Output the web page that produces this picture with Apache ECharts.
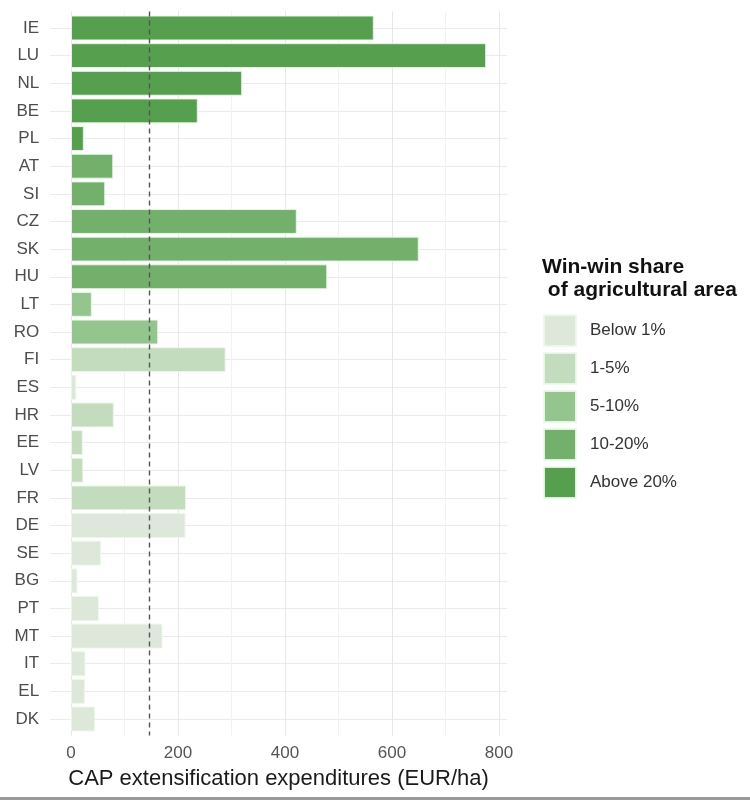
<!DOCTYPE html>
<html>
<head>
<meta charset="utf-8">
<script src="https://cdn.jsdelivr.net/npm/echarts@6/dist/echarts.min.js"></script>
<style>
html,body{margin:0;padding:0;background:#fff;}
#chart{width:750px;height:800px;}
</style>
</head>
<body>
<div id="chart"></div>
<script>
// ---- data ----
const countries = ['IE','LU','NL','BE','PL','AT','SI','CZ','SK','HU','LT','RO','FI','ES','HR','EE','LV','FR','DE','SE','BG','PT','MT','IT','EL','DK'];
const expenditures = [566,776,320,237,24,79,64,422,650,479,39,163,289,10,80,22,23,215,214,56,12,52,171,27,26,45];
// index into shareClasses
const shareGroup = [4,4,4,4,4,3,3,3,3,3,2,2,1,0,1,1,1,1,0,0,0,0,0,0,0,0];
const shareClasses = ['Below 1%','1-5%','5-10%','10-20%','Above 20%'];
const shareColors = ['#dde7da','#c2dcbd','#95c58f','#72b06c','#559f4f'];
const xTicks = [0,200,400,600,800];
const threshold = [147];

// ---- layout ----
const font = 'Liberation Sans, Arial, Helvetica, sans-serif';
const x0 = 71, x800 = 499;                // panel x scale
const rowTop = 28, rowBottom = 719;       // first/last category centres
const nCat = countries.length;
const step = (rowBottom - rowTop) / (nCat - 1);
const panelTop = rowTop - 0.6 * step, panelBottom = rowBottom + 0.6 * step;
const pxPerUnit = (x800 - x0) / 800;
const panelLeft = x0 - 39 * pxPerUnit, panelRight = x800 + 15 * pxPerUnit;

const series = shareClasses.map((name, g) => ({
  name: name,
  type: 'bar',
  stack: 'all',
  xAxisIndex: 1,
  yAxisIndex: 1,
  barCategoryGap: '10%',
  itemStyle: { color: shareColors[g], borderColor: 'rgba(235,248,232,0.9)', borderWidth: 1 },
  data: expenditures.map((v, i) => shareGroup[i] === g ? v : '-'),
  silent: true
}));

series.push({
  type: 'line',
  xAxisIndex: 0,
  yAxisIndex: 0,
  data: [],
  silent: true,
  markLine: {
    symbol: ['none','none'],
    silent: true,
    label: { show: false },
    lineStyle: { color: '#555', type: [5,4], width: 1.4 },
    data: threshold.map(t => ({ xAxis: t }))
  }
});

const option = {
  backgroundColor: '#ffffff',
  animation: false,
  title: {
    text: 'Win-win share\n of agricultural area',
    left: 542, top: 256, padding: [0,0,0,0],
    textStyle: { fontFamily: font, fontSize: 21, fontWeight: 'bold', color: '#111', lineHeight: 23 }
  },
  legend: {
    orient: 'vertical',
    left: 543, top: 314, padding: 0,
    itemWidth: 32, itemHeight: 31, itemGap: 5,
    icon: 'rect',
    data: shareClasses,
    textStyle: { fontFamily: font, fontSize: 17, color: '#333', padding: [0,0,0,9] },
    selectedMode: false
  },
  grid: [
    // grid 0: x axis, vertical grid lines, threshold line
    { left: x0, right: 750 - x800, top: panelTop, height: panelBottom - panelTop },
    // grid 1: bars
    { left: x0, right: 750 - x800, top: rowTop - step / 2, height: step * nCat },
    // grid 2: category labels + horizontal grid lines
    { left: panelLeft, right: 750 - panelRight, top: rowTop, height: rowBottom - rowTop }
  ],
  xAxis: [
    {
      gridIndex: 0, type: 'value', min: xTicks[0], max: xTicks[xTicks.length - 1], interval: 200,
      axisLine: { show: false }, axisTick: { show: false },
      axisLabel: { fontFamily: font, fontSize: 17, color: '#555', margin: 9 },
      splitLine: { show: true, lineStyle: { color: '#e6e6e6', width: 1 } },
      minorTick: { show: false, splitNumber: 2 },
      minorSplitLine: { show: true, lineStyle: { color: '#f2f2f2', width: 1 } }
    },
    {
      gridIndex: 1, type: 'value', min: xTicks[0], max: xTicks[xTicks.length - 1],
      show: false
    },
    {
      gridIndex: 2, type: 'value', min: 0, max: 1,
      axisLine: { show: false }, axisTick: { show: false }, axisLabel: { show: false },
      splitLine: { show: false },
      name: 'CAP extensification expenditures (EUR/ha)',
      nameLocation: 'middle', nameGap: 49,
      nameTextStyle: { fontFamily: font, fontSize: 22, color: '#1a1a1a' }
    }
  ],
  yAxis: [
    { gridIndex: 0, type: 'category', data: countries, inverse: true, show: false },
    { gridIndex: 1, type: 'category', data: countries, inverse: true, show: false },
    {
      gridIndex: 2, type: 'category', data: countries, inverse: true, boundaryGap: false,
      axisLine: { show: false }, axisTick: { show: false },
      axisLabel: { fontFamily: font, fontSize: 17, color: '#4d4d4d', margin: 11 },
      splitLine: { show: true, lineStyle: { color: '#ebebeb', width: 1 } }
    }
  ],
  graphic: [
    { type: 'rect', left: 0, top: 797, shape: { width: 750, height: 3 }, style: { fill: '#9a9a9a' }, silent: true }
  ],
  series: series
};

const chart = echarts.init(document.getElementById('chart'), null, { renderer: 'canvas' });
chart.setOption(option);
</script>
</body>
</html>
